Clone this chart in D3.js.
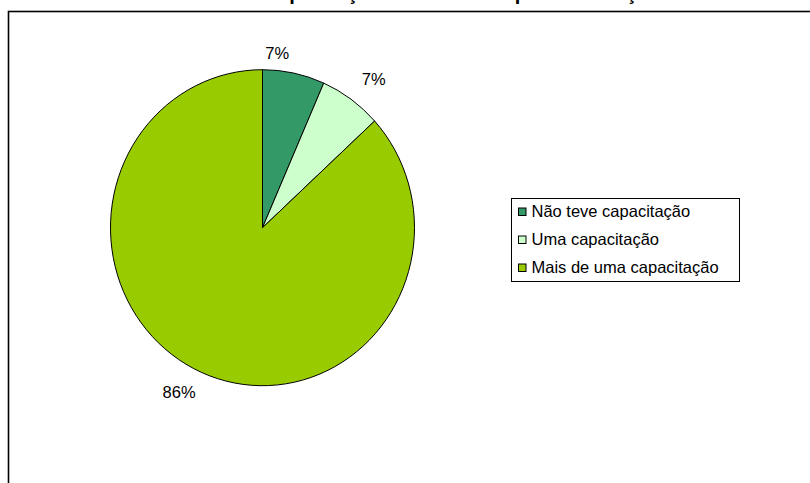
<!DOCTYPE html>
<html>
<head>
<meta charset="utf-8">
<script src="https://cdn.jsdelivr.net/npm/d3@7"></script>
<style>
  html, body { margin: 0; padding: 0; background: #fff; }
  svg { display: block; font-family: "Liberation Sans", Arial, sans-serif; }
</style>
</head>
<body>
<svg id="chart" width="810" height="483"></svg>
<script>
// ---- data ----
const title = "Capacitação dos técnicos pela instituição";
const categories = ["Não teve capacitação", "Uma capacitação", "Mais de uma capacitação"];
const values = [6.6, 6.6, 86.8];
const percentLabels = ["7%", "7%", "86%"];
const colors = ["#339966", "#CCFFCC", "#99CC00"];

// ---- layout ----
const svg = d3.select("#chart");
const cx = 262.5, cy = 227.7, rx = 152, ry = 158;

// outer chart border (extends beyond the view)
svg.append("rect")
  .attr("x", 8.5).attr("y", 11.5)
  .attr("width", 1200).attr("height", 1200)
  .attr("fill", "none").attr("stroke", "#000").attr("stroke-width", 1.6);

// title (cropped by the top edge, as in the reference)
svg.append("text")
  .attr("x", 462).attr("y", -0.3)
  .attr("text-anchor", "middle")
  .attr("font-size", 20).attr("font-weight", "bold")
  .attr("fill", "#000")
  .text(title);

const pie = d3.pie().sort(null).value(d => d)(values);
const arc = d3.arc().innerRadius(0).outerRadius(ry);

const g = svg.append("g")
  .attr("transform", `translate(${cx},${cy}) scale(${rx / ry},1)`);

g.selectAll("path.slice")
  .data(pie)
  .join("path")
  .attr("class", "slice")
  .attr("d", arc)
  .attr("fill", (d, i) => colors[i])
  .attr("stroke", "#000")
  .attr("stroke-width", 1)
  .attr("vector-effect", "non-scaling-stroke");

// percentage labels outside the pie (Excel best-fit placement)
const labelR = [175, 188, 186];
const labelNudge = [-0.12, 0.04, 0.07];
const labelAngle = (d, i) => (d.startAngle + d.endAngle) / 2 + labelNudge[i];
svg.selectAll("text.pct")
  .data(pie)
  .join("text")
  .attr("class", "pct")
  .attr("x", (d, i) => cx + Math.sin(labelAngle(d, i)) * labelR[i] * (rx / ry))
  .attr("y", (d, i) => cy - Math.cos(labelAngle(d, i)) * labelR[i])
  .attr("dy", "0.35em")
  .attr("text-anchor", "middle")
  .attr("font-size", 16.5)
  .attr("fill", "#000")
  .text((d, i) => percentLabels[i]);

// legend
const lx = 511, ly = 198, lw = 228, lh = 83, rowH = 28;
const legend = svg.append("g");
legend.append("rect")
  .attr("x", lx + 0.5).attr("y", ly + 0.5)
  .attr("width", lw).attr("height", lh)
  .attr("fill", "#fff").attr("stroke", "#000").attr("stroke-width", 1);

const rows = legend.selectAll("g.row")
  .data(categories)
  .join("g")
  .attr("class", "row")
  .attr("transform", (d, i) => `translate(${lx + 7},${ly + 13.5 + i * rowH})`);

rows.append("rect")
  .attr("x", 0.5).attr("y", -3.5)
  .attr("width", 7.5).attr("height", 7.5)
  .attr("fill", (d, i) => colors[i])
  .attr("stroke", "#000").attr("stroke-width", 1);

rows.append("text")
  .attr("x", 13.5).attr("y", 0)
  .attr("dy", "0.35em")
  .attr("font-size", 16.5)
  .attr("fill", "#000")
  .text(d => d);
</script>
</body>
</html>
